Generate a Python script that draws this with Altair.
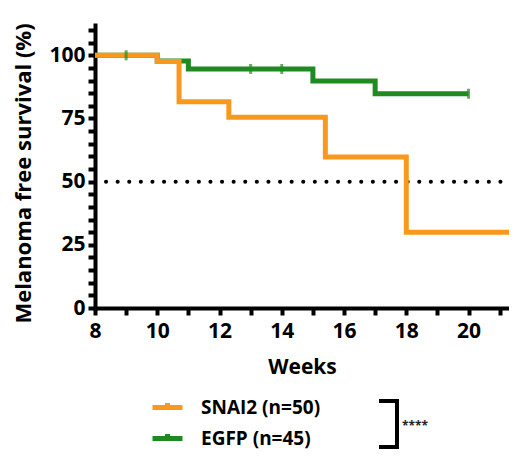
import altair as alt
import pandas as pd

# --- data ---
snai2_weeks = [8, 10, 10.7, 12.3, 15.4, 18, 21.3]
snai2_surv = [100, 97.6, 81.6, 75.5, 59.8, 30, 30]
egfp_weeks = [8, 10, 11, 15, 17, 20]
egfp_surv = [100, 97.8, 94.6, 89.8, 84.8, 84.8]
egfp_censor_weeks = [9, 13, 14, 20]
egfp_censor_surv = [100, 94.6, 94.6, 84.8]
series_names = ["SNAI2 (n=50)", "EGFP (n=45)"]
series_colors = ["#F8991D", "#1F8A1F"]
x_ticks = list(range(8, 22))
y_ticks = list(range(0, 111, 5))
median_line = [50]

FONT = "Open Sans"

snai2 = pd.DataFrame({"series": series_names[0], "week": snai2_weeks, "surv": snai2_surv})
egfp = pd.DataFrame({"series": series_names[1], "week": egfp_weeks, "surv": egfp_surv})
censor = pd.DataFrame({"series": series_names[1], "week": egfp_censor_weeks, "surv": egfp_censor_surv})

xscale = alt.Scale(domain=[8, 21.3], nice=False, zero=False)
yscale = alt.Scale(domain=[0, 112], nice=False)
cscale = alt.Scale(domain=series_names, range=series_colors)
legend = alt.Legend(
    title=None,
    orient="none",
    legendX=55,
    legendY=365,
    symbolType="M-1,0L1,0M0,0L0,-0.3",
    symbolSize=900,
    symbolStrokeWidth=5,
    symbolOpacity=1,
    labelFont=FONT,
    labelFontSize=19,
    labelFontWeight="bold",
    labelColor="black",
    labelOffset=16,
    rowPadding=3,
    symbolOffset=0,
    values=series_names,
)

xaxis = alt.Axis(
    values=x_ticks,
    labelExpr="(datum.value % 2 == 0 && datum.value <= 20) ? format(datum.value, 'd') : ''",
    labelOverlap=False,
    title="Weeks",
    titleFont=FONT,
    titleFontSize=21,
    titleFontWeight="bold",
    titlePadding=15,
    labelFont=FONT,
    labelFontSize=21,
    labelFontWeight="bold",
    labelPadding=5,
    labelFlush=False,
)
yaxis = alt.Axis(
    values=y_ticks,
    labelExpr="(datum.value % 25 == 0) ? format(datum.value, 'd') : ''",
    labelOverlap=False,
    title="Melanoma free survival (%)",
    titleFont=FONT,
    titleFontSize=22,
    titleFontWeight="bold",
    titleX=-60,
    titleY=148,
    labelFont=FONT,
    labelFontSize=21,
    labelFontWeight="bold",
    labelPadding=3,
    labelFlush=False,
)

X = alt.X("week:Q", scale=xscale, axis=xaxis)
Y = alt.Y("surv:Q", scale=yscale, axis=yaxis)
C = alt.Color("series:N", scale=cscale, legend=legend)

egfp_line = alt.Chart(egfp).mark_line(interpolate="step-after", strokeWidth=5, clip=True).encode(x=X, y=Y, color=C)
snai2_line = alt.Chart(snai2).mark_line(interpolate="step-after", strokeWidth=5, clip=True).encode(x=X, y=Y, color=C)
ticks = alt.Chart(censor).mark_tick(orient="vertical", size=10, thickness=3).encode(x=X, y=Y, color=C)

dotted = alt.Chart(pd.DataFrame({"surv": median_line})).mark_rule(
    color="black", strokeWidth=4, strokeDash=[0.1, 11.5], strokeCap="round"
).encode(
    y=Y,
    x=alt.value(11),
    x2=alt.value(412),
)

one = pd.DataFrame({"a": [0]})
bracket_v = alt.Chart(one).mark_rule(color="black", strokeWidth=4).encode(
    x=alt.value(302), y=alt.value(376), y2=alt.value(422)
)
bracket_top = alt.Chart(one).mark_rule(color="black", strokeWidth=4).encode(
    x=alt.value(284), x2=alt.value(304), y=alt.value(376)
)
bracket_bot = alt.Chart(one).mark_rule(color="black", strokeWidth=4).encode(
    x=alt.value(284), x2=alt.value(304), y=alt.value(422)
)
stars = alt.Chart(pd.DataFrame({"t": ["****"]})).mark_text(
    font=FONT, fontSize=12, fontWeight="bold", align="left", baseline="middle", color="#222"
).encode(text="t:N", x=alt.value(307), y=alt.value(401))

chart = (
    alt.layer(dotted, egfp_line, snai2_line, ticks, bracket_v, bracket_top, bracket_bot, stars)
    .properties(
        width=414,
        height=283,
        autosize=alt.AutoSizeParams(type="none"),
        padding={"left": 87, "top": 17, "right": 0, "bottom": 141},
    )
    .configure_view(stroke=None)
    .configure_axis(
        domainColor="black",
        domainWidth=4,
        domainCap="square",
        tickColor="black",
        tickWidth=4,
        tickSize=7,
        grid=False,
        labelColor="black",
        titleColor="black",
    )
)

chart.save("out.html", embed_options={"renderer": "svg", "actions": False})
